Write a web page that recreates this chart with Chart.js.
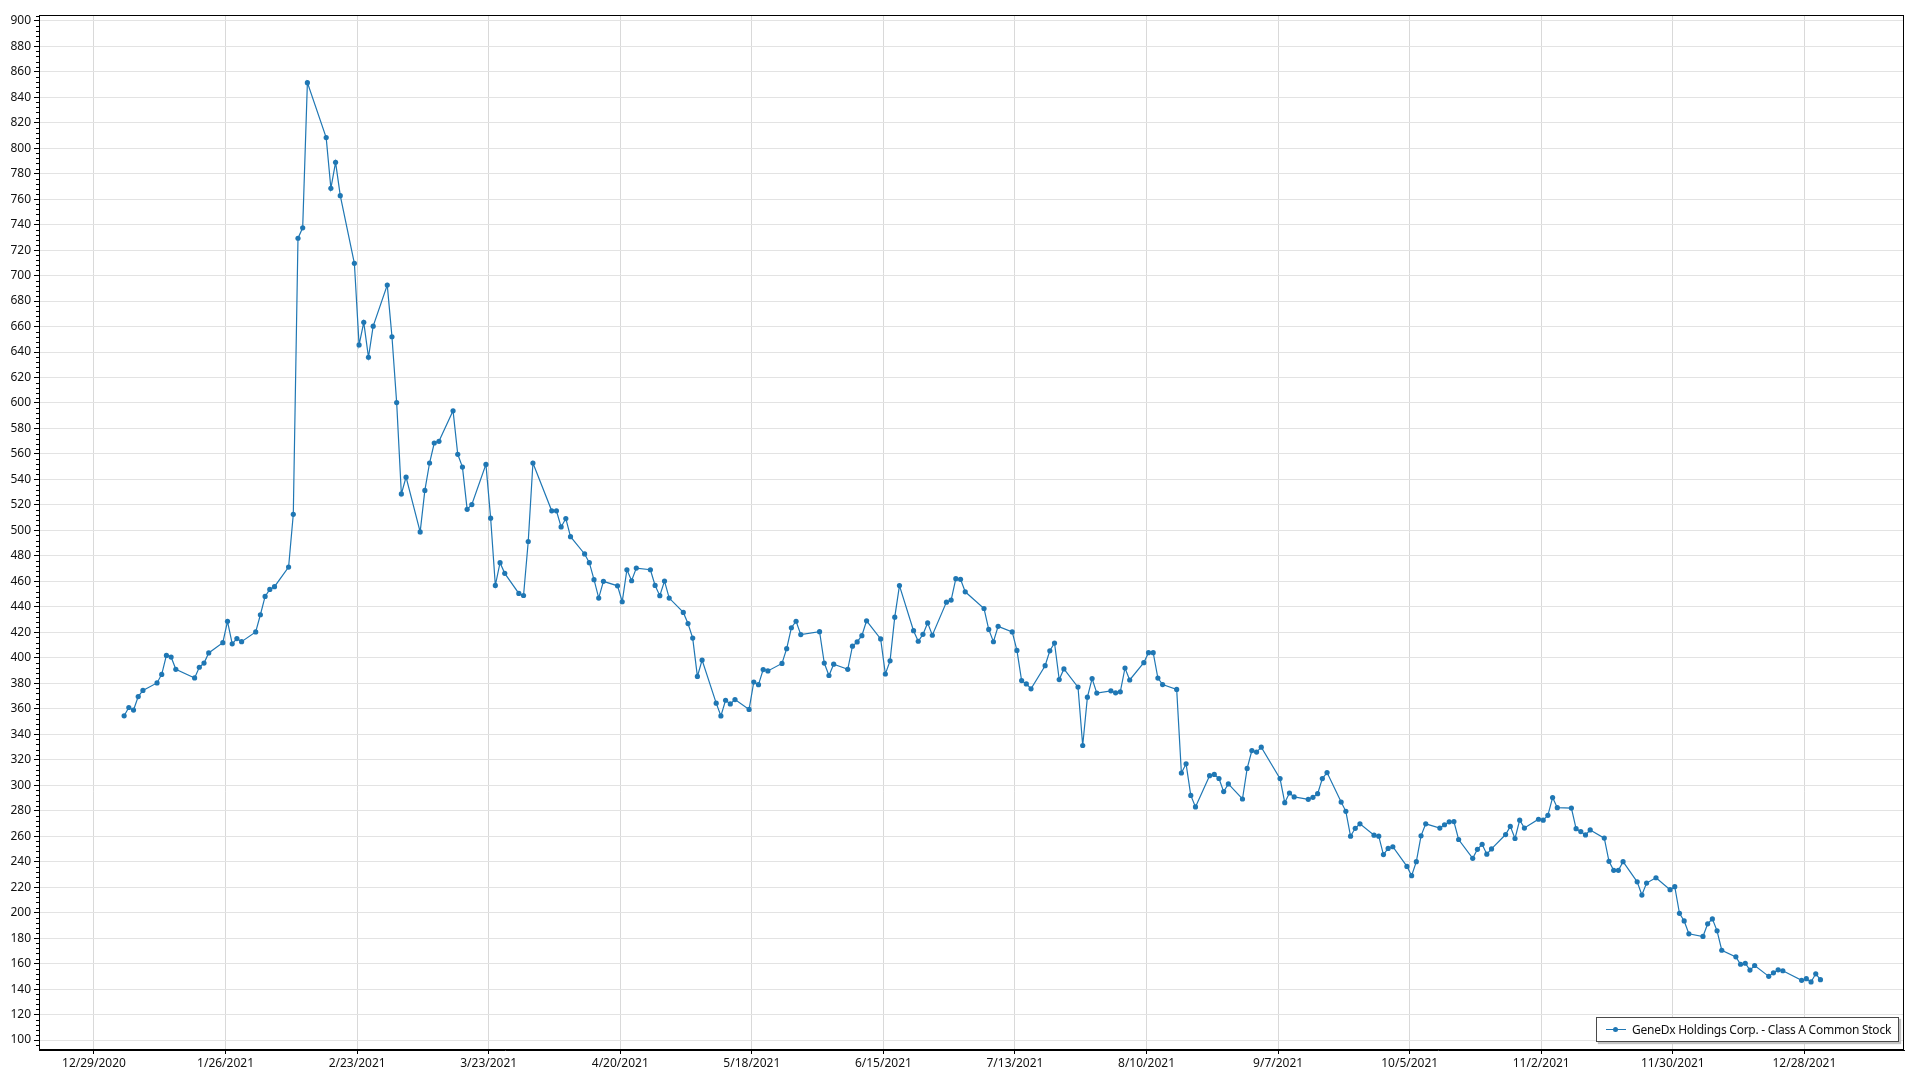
<!DOCTYPE html>
<html>
<head>
<meta charset="utf-8">
<title>GeneDx Holdings Corp. - Class A Common Stock</title>
<script src="https://cdn.jsdelivr.net/npm/chart.js@4.4.1/dist/chart.umd.min.js"></script>
<style>
  html, body { margin: 0; padding: 0; background: #fff; }
  #wrap { position: relative; width: 1920px; height: 1080px; }
  #legend {
    position: absolute; left: 1596px; top: 1017px; width: 301px; height: 23px;
    border: 1px solid #4a4a4a; background: #fff; box-shadow: 2px 2px 1px #c4c4c4;
    font: 12px 'Segoe UI', 'Noto Sans', sans-serif; letter-spacing: -0.25px; color: #111;
    white-space: nowrap; overflow: hidden;
    display: flex; align-items: center; box-sizing: content-box;
  }
  #legend .swatch { position: relative; flex: none; width: 20px; height: 9px; margin: 0 6px 0 9px; }
  #legend .swatch::before { content: ''; position: absolute; left: 0; right: 0; top: 4px; height: 1px; background: #1f77b4; }
  #legend .swatch::after { content: ''; position: absolute; left: 7px; top: 2px; width: 5px; height: 5px; border-radius: 50%; background: #1f77b4; }
</style>
</head>
<body>
<div id="wrap">
  <canvas id="myChart" width="1920" height="1080"></canvas>
  <div id="legend"><span class="swatch"></span><span id="legendText"></span></div>
</div>
<script>
const seriesName = 'GeneDx Holdings Corp. - Class A Common Stock';

const xTickLabels = ['12/29/2020', '1/26/2021', '2/23/2021', '3/23/2021', '4/20/2021', '5/18/2021', '6/15/2021',
  '7/13/2021', '8/10/2021', '9/7/2021', '10/5/2021', '11/2/2021', '11/30/2021', '12/28/2021'];

const yTickValues = [100, 120, 140, 160, 180, 200, 220, 240, 260, 280, 300, 320, 340, 360, 380, 400, 420, 440, 460, 480,
  500, 520, 540, 560, 580, 600, 620, 640, 660, 680, 700, 720, 740, 760, 780, 800, 820, 840, 860, 880, 900];

// trading days (2021) and closing prices
const dates = [
  '2021-01-04', '2021-01-05', '2021-01-06', '2021-01-07', '2021-01-08', '2021-01-11', '2021-01-12', '2021-01-13', '2021-01-14', '2021-01-15',
  '2021-01-19', '2021-01-20', '2021-01-21', '2021-01-22', '2021-01-25', '2021-01-26', '2021-01-27', '2021-01-28', '2021-01-29',
  '2021-02-01', '2021-02-02', '2021-02-03', '2021-02-04', '2021-02-05', '2021-02-08', '2021-02-09', '2021-02-10', '2021-02-11', '2021-02-12',
  '2021-02-16', '2021-02-17', '2021-02-18', '2021-02-19', '2021-02-22', '2021-02-23', '2021-02-24', '2021-02-25', '2021-02-26',
  '2021-03-01', '2021-03-02', '2021-03-03', '2021-03-04', '2021-03-05', '2021-03-08', '2021-03-09', '2021-03-10', '2021-03-11', '2021-03-12',
  '2021-03-15', '2021-03-16', '2021-03-17', '2021-03-18', '2021-03-19', '2021-03-22', '2021-03-23', '2021-03-24', '2021-03-25', '2021-03-26',
  '2021-03-29', '2021-03-30', '2021-03-31',
  '2021-04-01', '2021-04-05', '2021-04-06', '2021-04-07', '2021-04-08', '2021-04-09', '2021-04-12', '2021-04-13', '2021-04-14', '2021-04-15',
  '2021-04-16', '2021-04-19', '2021-04-20', '2021-04-21', '2021-04-22', '2021-04-23', '2021-04-26', '2021-04-27', '2021-04-28', '2021-04-29', '2021-04-30',
  '2021-05-03', '2021-05-04', '2021-05-05', '2021-05-06', '2021-05-07', '2021-05-10', '2021-05-11', '2021-05-12', '2021-05-13', '2021-05-14',
  '2021-05-17', '2021-05-18', '2021-05-19', '2021-05-20', '2021-05-21', '2021-05-24', '2021-05-25', '2021-05-26', '2021-05-27', '2021-05-28',
  '2021-06-01', '2021-06-02', '2021-06-03', '2021-06-04', '2021-06-07', '2021-06-08', '2021-06-09', '2021-06-10', '2021-06-11',
  '2021-06-14', '2021-06-15', '2021-06-16', '2021-06-17', '2021-06-18', '2021-06-21', '2021-06-22', '2021-06-23', '2021-06-24', '2021-06-25',
  '2021-06-28', '2021-06-29', '2021-06-30',
  '2021-07-01', '2021-07-02', '2021-07-06', '2021-07-07', '2021-07-08', '2021-07-09', '2021-07-12', '2021-07-13', '2021-07-14', '2021-07-15',
  '2021-07-16', '2021-07-19', '2021-07-20', '2021-07-21', '2021-07-22', '2021-07-23', '2021-07-26', '2021-07-27', '2021-07-28', '2021-07-29', '2021-07-30',
  '2021-08-02', '2021-08-03', '2021-08-04', '2021-08-05', '2021-08-06', '2021-08-09', '2021-08-10', '2021-08-11', '2021-08-12', '2021-08-13',
  '2021-08-16', '2021-08-17', '2021-08-18', '2021-08-19', '2021-08-20', '2021-08-23', '2021-08-24', '2021-08-25', '2021-08-26', '2021-08-27',
  '2021-08-30', '2021-08-31',
  '2021-09-01', '2021-09-02', '2021-09-03', '2021-09-07', '2021-09-08', '2021-09-09', '2021-09-10', '2021-09-13', '2021-09-14', '2021-09-15',
  '2021-09-16', '2021-09-17', '2021-09-20', '2021-09-21', '2021-09-22', '2021-09-23', '2021-09-24', '2021-09-27', '2021-09-28', '2021-09-29', '2021-09-30',
  '2021-10-01', '2021-10-04', '2021-10-05', '2021-10-06', '2021-10-07', '2021-10-08', '2021-10-11', '2021-10-12', '2021-10-13', '2021-10-14',
  '2021-10-15', '2021-10-18', '2021-10-19', '2021-10-20', '2021-10-21', '2021-10-22', '2021-10-25', '2021-10-26', '2021-10-27', '2021-10-28', '2021-10-29',
  '2021-11-01', '2021-11-02', '2021-11-03', '2021-11-04', '2021-11-05', '2021-11-08', '2021-11-09', '2021-11-10', '2021-11-11', '2021-11-12',
  '2021-11-15', '2021-11-16', '2021-11-17', '2021-11-18', '2021-11-19', '2021-11-22', '2021-11-23', '2021-11-24', '2021-11-26', '2021-11-29', '2021-11-30',
  '2021-12-01', '2021-12-02', '2021-12-03', '2021-12-06', '2021-12-07', '2021-12-08', '2021-12-09', '2021-12-10', '2021-12-13', '2021-12-14',
  '2021-12-15', '2021-12-16', '2021-12-17', '2021-12-20', '2021-12-21', '2021-12-22', '2021-12-23', '2021-12-27', '2021-12-28', '2021-12-29',
  '2021-12-30', '2021-12-31'
];

const prices = [
  354.5, 361, 359, 369.6, 374.4, 380.3, 387, 401.9, 400.6, 391,
  384.2, 392.6, 395.9, 403.8, 411.9, 428.6, 411, 415.1, 412.7,
  420.3, 433.8, 448.2, 453.7, 455.8, 471.2, 512.6, 729.3, 737.5, 851.4,
  808.3, 768.5, 788.9, 762.7, 709.6, 645.6, 663.3, 635.9, 660.3,
  692.5, 652, 600.3, 528.6, 541.8, 498.8, 531.4, 552.9, 568.6, 569.9,
  593.9, 559.7, 549.7, 516.5, 520.3, 551.8, 509.6, 456.8, 474.7, 466.3,
  450.5, 448.9, 491.3,
  552.9, 515.4, 515.4, 502.7, 509.3, 495.1, 481.5, 474.7, 461.3, 446.9,
  460, 456.5, 444, 469.1, 460.5, 470.4, 469.1, 456.8, 448.8, 460.3, 446.9,
  435.6, 426.9, 415.5, 385.4, 398.2, 364.4, 354.4, 366.7, 363.8, 367.2,
  359.5, 381, 378.9, 390.8, 389.7, 395.6, 407.2, 423.6, 428.7, 418.2,
  420.5, 395.9, 386.1, 395, 391, 409.1, 412.5, 417.4, 429,
  414.8, 387.3, 397.6, 431.9, 456.7, 421.3, 413, 418.4, 427.4, 417.7,
  443.7, 445.3, 462.1,
  461.6, 451.8, 438.7, 422.3, 412.6, 424.7, 420.3, 405.8, 382.1, 379.5,
  375.7, 393.8, 405.5, 411.6, 382.9, 391.3, 377, 331.2, 369.1, 383.7, 372.3,
  374.1, 372.5, 373.3, 392, 382.6, 396.2, 404, 404, 384.1, 379,
  375.2, 309.6, 316.8, 292, 283, 307.5, 308.5, 305.3, 295, 301,
  289.2, 313.2,
  327.2, 326, 329.9, 305.2, 286.3, 293.9, 290.8, 288.9, 290.5, 293.4,
  305.2, 309.9, 286.8, 279.5, 260, 266.2, 269.7, 260.8, 260, 245.6, 250.4,
  251.7, 236.3, 229, 240, 260.3, 269.7, 266.4, 269, 271.3, 271.5,
  257.4, 242.6, 249.7, 253.6, 245.9, 250, 261.3, 267.7, 258.2, 272.6, 266.4,
  273.3, 272.6, 276.4, 290.3, 282.4, 282.1, 265.9, 263.6, 261, 264.9,
  258.5, 240.3, 233.2, 233.2, 240, 224.2, 213.8, 223.2, 227.4, 218, 220.4,
  199.5, 193.5, 183.4, 181.3, 191.2, 195.1, 185.7, 170.5, 165.3, 159.5,
  160.3, 154.9, 158.5, 150, 152.8, 155.1, 154.4, 146.9, 148.2, 145.6,
  152, 147.4
];

const DAY = 86400000;
const origin = Date.UTC(2020, 11, 29);
const quoteHour = 10; // timestamps sit a little into the day, not at midnight
function isoToDay(s) {
  const p = s.split('-').map(Number);
  return (Date.UTC(p[0], p[1] - 1, p[2], quoteHour) - origin) / DAY;
}
function mdyToDay(s) {
  const p = s.split('/').map(Number);
  return (Date.UTC(p[2], p[0] - 1, p[1]) - origin) / DAY;
}
const xTickDays = xTickLabels.map(mdyToDay);
const points = dates.map((d, i) => ({ x: isoToDay(d), y: prices[i] }));

const font = { family: "'Segoe UI', 'Noto Sans', sans-serif", size: 12 };
const lineColor = '#1f77b4';

// black frame round the plot area + small minor ticks on the value axis
const framePlugin = {
  id: 'frame',
  afterDraw(chart) {
    const { ctx, chartArea: a } = chart;
    const y = chart.scales.y;
    ctx.save();
    ctx.strokeStyle = '#000';
    ctx.lineWidth = 1;
    ctx.strokeRect(Math.round(a.left) + 0.5, Math.round(a.top) + 0.5,
      Math.round(a.right - a.left) - 1, Math.round(a.bottom - a.top) - 1);
    ctx.beginPath();
    for (let v = 96; v <= 904; v += 4) {
      if (v % 20 === 0) continue;
      const py = Math.round(y.getPixelForValue(v)) + 0.5;
      ctx.moveTo(a.left - 3, py);
      ctx.lineTo(a.left, py);
    }
    ctx.stroke();
    ctx.restore();
  }
};

document.getElementById('legendText').textContent = seriesName;

const config = {
  type: 'line',
  data: {
    datasets: [{
      label: seriesName,
      data: points,
      borderColor: lineColor,
      backgroundColor: lineColor,
      borderWidth: 1.2,
      pointRadius: 2.6,
      pointHoverRadius: 2.6,
      pointBorderWidth: 0,
      tension: 0
    }]
  },
  options: {
    responsive: false,
    animation: false,
    layout: { padding: { top: 15, right: 16, left: 0, bottom: 0 } },
    plugins: { legend: { display: false }, tooltip: { enabled: false } },
    scales: {
      x: {
        type: 'linear',
        min: -11.7,
        max: 385.2,
        afterBuildTicks: s => { s.ticks = xTickDays.map(v => ({ value: v })); },
        afterFit: s => { s.height = 30; },
        ticks: {
          autoSkip: false, maxRotation: 0, padding: 2, color: '#111', font: font,
          callback: (v, i) => xTickLabels[i]
        },
        grid: { color: '#d9d9d9', tickColor: '#000', tickLength: 4 },
        border: { color: '#000' }
      },
      y: {
        min: 92.2,
        max: 904.5,
        afterBuildTicks: s => { s.ticks = yTickValues.map(v => ({ value: v })); },
        afterFit: s => { s.width = 39; },
        ticks: { autoSkip: false, padding: 3, color: '#111', font: font },
        grid: { color: '#e3e3e3', tickColor: '#000', tickLength: 5 },
        border: { color: '#000' }
      }
    }
  },
  plugins: [framePlugin]
};

var myChart = new Chart(document.getElementById('myChart'), config);
</script>
</body>
</html>
